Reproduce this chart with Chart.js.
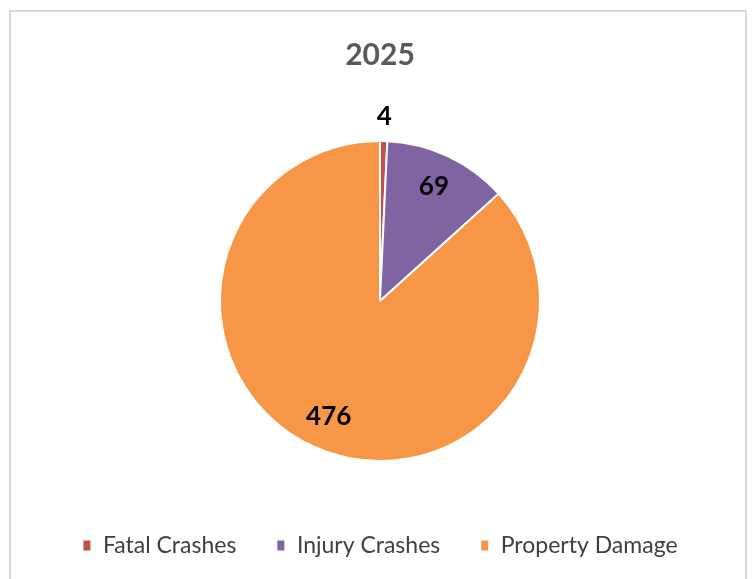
<!DOCTYPE html>
<html>
<head>
<meta charset="utf-8">
<script src="https://cdn.jsdelivr.net/npm/chart.js@4"></script>
<style>
  html, body { margin: 0; padding: 0; background: #fff; }
  #wrap { position: relative; width: 754px; height: 579px; }
  canvas { display: block; }
</style>
</head>
<body>
<div id="wrap"><canvas id="c" width="754" height="579"></canvas></div>
<script>
const chartTitle = '2025';
const categories = ['Fatal Crashes', 'Injury Crashes', 'Property Damage'];
const crashCounts = [4, 69, 476];
const sliceColors = ['#C0504D', '#8064A2', '#F79646'];

const frameAndBg = {
  id: 'frameAndBg',
  beforeDraw(chart) {
    const ctx = chart.ctx;
    ctx.save();
    ctx.fillStyle = '#ffffff';
    ctx.fillRect(0, 0, chart.width, chart.height);
    ctx.strokeStyle = '#d9d9d9';
    ctx.lineWidth = 2;
    ctx.strokeRect(10, 11, 736, 600);
    ctx.restore();
  }
};

const sliceLabels = {
  id: 'sliceLabels',
  afterDatasetsDraw(chart) {
    const ctx = chart.ctx;
    const meta = chart.getDatasetMeta(0);
    const data = chart.data.datasets[0].data;
    const total = data.reduce((a, b) => a + b, 0);
    ctx.save();
    ctx.font = 'bold 26px Lato';
    ctx.fillStyle = '#000000';
    ctx.textAlign = 'center';
    ctx.textBaseline = 'middle';
    meta.data.forEach((arc, i) => {
      const p = arc.getProps(['x', 'y', 'startAngle', 'endAngle', 'outerRadius'], true);
      const mid = (p.startAngle + p.endAngle) / 2;
      const share = data[i] / total;
      const r = share < 0.05 ? p.outerRadius + 24 : p.outerRadius * 0.79;
      ctx.fillText(String(data[i]), p.x + Math.cos(mid) * r, p.y + Math.sin(mid) * r);
    });
    ctx.restore();
  }
};

new Chart(document.getElementById('c'), {
  type: 'pie',
  data: {
    labels: categories,
    datasets: [{
      data: crashCounts,
      backgroundColor: sliceColors,
      borderColor: '#ffffff',
      borderWidth: 2,
      radius: 160
    }]
  },
  options: {
    responsive: false,
    animation: false,
    devicePixelRatio: 1,
    layout: { padding: { top: 0, bottom: 12, left: 6, right: 0 } },
    plugins: {
      title: {
        display: true,
        text: chartTitle,
        color: '#595959',
        font: { family: 'Lato', size: 30, weight: 'bold' },
        padding: { top: 37, bottom: 35 }
      },
      legend: {
        display: true,
        position: 'bottom',
        labels: {
          color: '#404040',
          font: { family: 'Lato', size: 23 },
          boxWidth: 9,
          boxHeight: 12,
          padding: 40
        }
      },
      tooltip: { enabled: false }
    }
  },
  plugins: [frameAndBg, sliceLabels]
});
</script>
</body>
</html>
